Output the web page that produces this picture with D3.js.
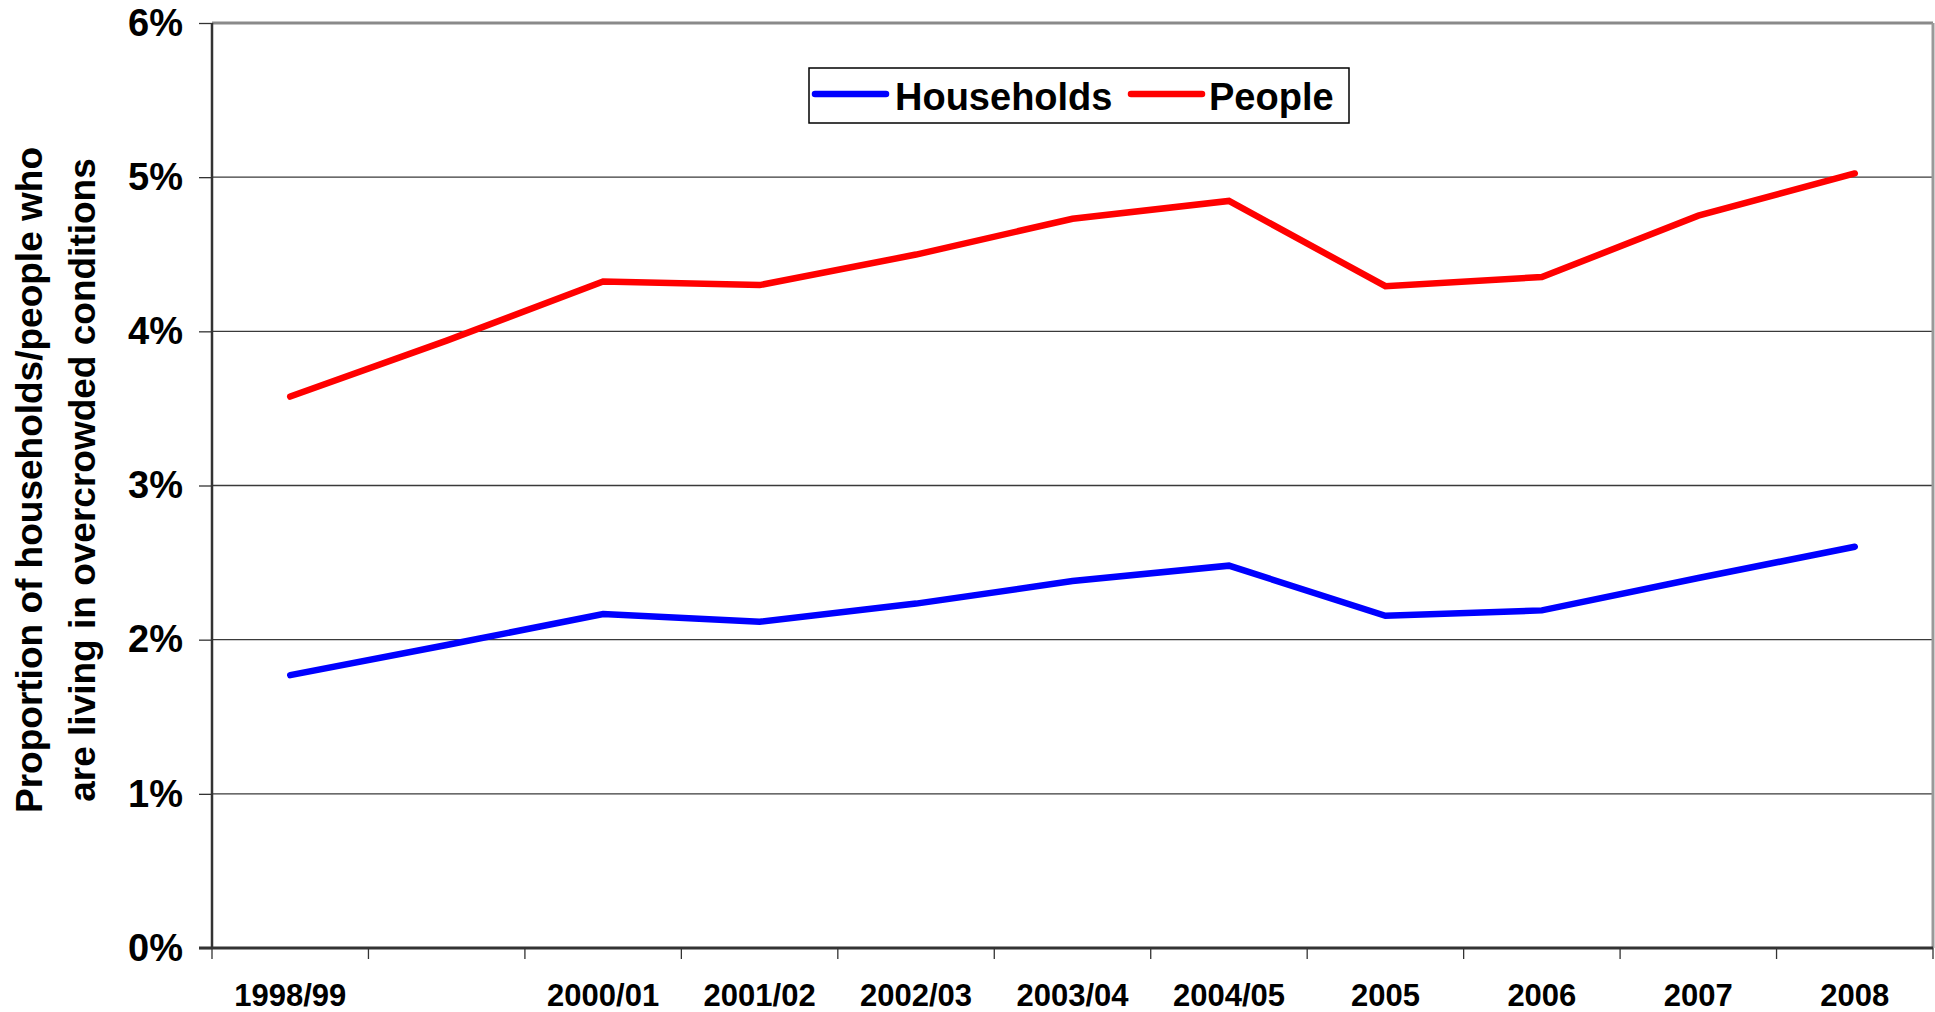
<!DOCTYPE html>
<html lang="en">
<head>
<meta charset="utf-8" />
<title>Overcrowding</title>
<script src="https://d3js.org/d3.v7.min.js"></script>
<style>
    body { margin: 0; background: #fff; }
    svg { display: block; font-family: "Liberation Sans", Arial, sans-serif; font-weight: bold; }
    .axis--y text { font-size: 38px; fill: #000; }
    .axis--x text { font-size: 31px; fill: #000; }
    .axis path { display: none; }
    .grid line { stroke: #3a3a3a; stroke-width: 1.3; }
    .legend text { font-size: 38px; }
</style>
</head>
<body>
<svg width="1935" height="1012"></svg>
<script>
    var categories = ["1998/99", "1999/00", "2000/01", "2001/02", "2002/03", "2003/04", "2004/05", "2005", "2006", "2007", "2008"];
    var tickLabels = ["1998/99", "", "2000/01", "2001/02", "2002/03", "2003/04", "2004/05", "2005", "2006", "2007", "2008"];
    var households = [1.77, 1.965, 2.166, 2.116, 2.234, 2.38, 2.48, 2.155, 2.19, 2.40, 2.603];
    var people = [3.577, 3.94, 4.323, 4.30, 4.498, 4.73, 4.846, 4.293, 4.352, 4.75, 5.024];
    var yTicks = [0, 1, 2, 3, 4, 5, 6];

    var series = [
        { name: "Households", color: "#0000ff", values: households },
        { name: "People", color: "#ff0000", values: people }
    ];

    var svg = d3.select("svg"),
        margin = { top: 23, right: 2, bottom: 64, left: 212 },
        width = +svg.attr("width") - margin.left - margin.right,
        height = +svg.attr("height") - margin.top - margin.bottom;

    var x = d3.scaleBand().domain(categories).range([0, width]).padding(0),
        y = d3.scaleLinear().domain([0, 6]).range([height, 0]);

    var g = svg.append("g")
        .attr("transform", "translate(" + margin.left + "," + margin.top + ")");

    // horizontal gridlines
    g.append("g")
        .attr("class", "grid")
        .selectAll("line")
        .data(yTicks.filter(function (d) { return d > 0 && d < 6; }))
        .enter().append("line")
        .attr("x1", 0).attr("x2", width)
        .attr("y1", function (d) { return y(d); })
        .attr("y2", function (d) { return y(d); });

    // top and right border
    g.append("line").attr("x1", 0).attr("x2", width).attr("y1", y(6)).attr("y2", y(6))
        .attr("stroke", "#8a8a8a").attr("stroke-width", 3);
    g.append("line").attr("x1", width).attr("x2", width).attr("y1", 0).attr("y2", height)
        .attr("stroke", "#999").attr("stroke-width", 3);

    // y axis
    g.append("g")
        .attr("class", "axis axis--y")
        .call(d3.axisLeft(y).tickValues(yTicks).tickSize(13).tickPadding(16)
            .tickFormat(function (d) { return d + "%"; }))
        .selectAll("line").attr("stroke", "#333").attr("stroke-width", 1.3);
    g.append("line").attr("x1", 0).attr("x2", 0).attr("y1", 0).attr("y2", height)
        .attr("stroke", "#333").attr("stroke-width", 2.5);

    // x axis: labels at band centres, ticks at band edges
    var xAxis = g.append("g")
        .attr("class", "axis axis--x")
        .attr("transform", "translate(0," + height + ")")
        .call(d3.axisBottom(x).tickSize(0).tickPadding(36)
            .tickFormat(function (d, i) { return tickLabels[i]; }));

    var edges = categories.map(function (c) { return x(c); }).concat([width]);
    xAxis.selectAll(".edge")
        .data(edges)
        .enter().append("line")
        .attr("class", "edge")
        .attr("x1", function (d) { return d; }).attr("x2", function (d) { return d; })
        .attr("y1", 0).attr("y2", 11)
        .attr("stroke", "#333").attr("stroke-width", 1.3);
    g.append("line").attr("x1", -13).attr("x2", width).attr("y1", height).attr("y2", height)
        .attr("stroke", "#333").attr("stroke-width", 3);

    // lines
    var line = d3.line()
        .x(function (d, i) { return x(categories[i]) + x.bandwidth() / 2; })
        .y(function (d) { return y(d); });

    g.selectAll(".series")
        .data(series)
        .enter().append("path")
        .attr("class", "series")
        .attr("fill", "none")
        .attr("stroke", function (d) { return d.color; })
        .attr("stroke-width", 6.5)
        .attr("stroke-linejoin", "miter")
        .attr("stroke-linecap", "round")
        .attr("d", function (d) { return line(d.values); });

    // y axis title
    var yTitle = svg.append("text")
        .attr("transform", "translate(0,480) rotate(-90)")
        .attr("text-anchor", "middle")
        .style("font-size", "37px");
    yTitle.append("tspan").attr("x", 0).attr("y", 42).text("Proportion of households/people who");
    yTitle.append("tspan").attr("x", 0).attr("y", 95).text("are living in overcrowded conditions");

    // legend
    var legend = svg.append("g").attr("class", "legend");
    legend.append("rect")
        .attr("x", 809).attr("y", 68).attr("width", 540).attr("height", 55)
        .attr("fill", "#fff").attr("stroke", "#000").attr("stroke-width", 1.5);
    var legendX = [815, 1131];
    var item = legend.selectAll(".item")
        .data(series)
        .enter().append("g")
        .attr("class", "item")
        .attr("transform", function (d, i) { return "translate(" + legendX[i] + ",94)"; });
    item.append("line")
        .attr("x1", 0).attr("x2", 71)
        .attr("stroke", function (d) { return d.color; })
        .attr("stroke-width", 6.5)
        .attr("stroke-linecap", "round");
    item.append("text")
        .attr("x", function (d, i) { return i === 0 ? 80 : 78; })
        .attr("y", 16)
        .text(function (d) { return d.name; });
</script>
</body>
</html>
